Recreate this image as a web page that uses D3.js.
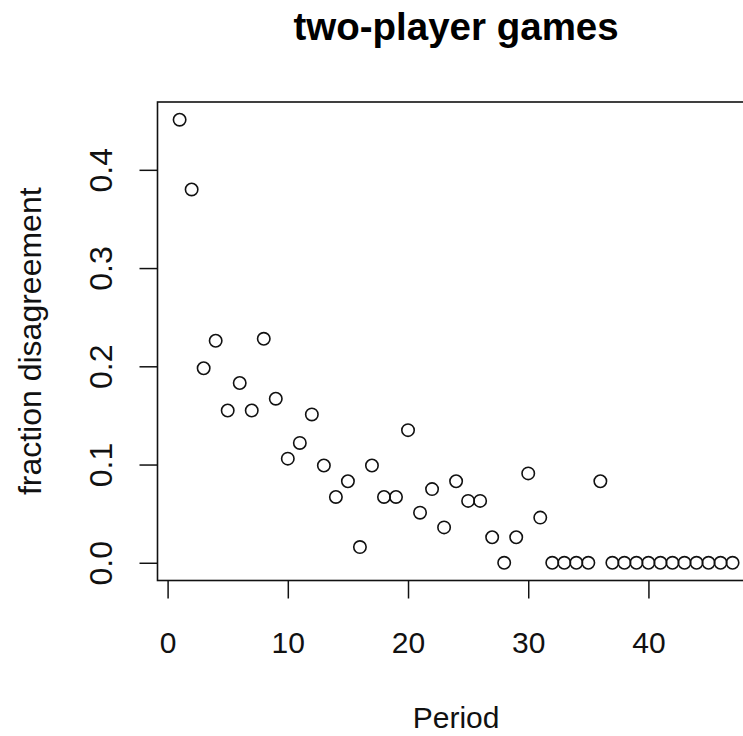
<!DOCTYPE html>
<html>
<head>
<meta charset="utf-8">
<script src="https://cdn.jsdelivr.net/npm/d3@7"></script>
<style>
  html, body { margin: 0; padding: 0; background: #fff; }
  svg { display: block; font-family: "Liberation Sans", Arial, sans-serif; }
</style>
</head>
<body>
<div class="scatter"></div>
<script>
// data
var periods = [1, 2, 3, 4, 5, 6, 7, 8, 9, 10, 11, 12, 13, 14, 15, 16, 17, 18, 19, 20,
  21, 22, 23, 24, 25, 26, 27, 28, 29, 30, 31, 32, 33, 34, 35, 36, 37, 38, 39, 40,
  41, 42, 43, 44, 45, 46, 47];
var disagreement = [0.451, 0.380, 0.198, 0.226, 0.155, 0.183, 0.155, 0.228, 0.167, 0.106,
  0.122, 0.151, 0.099, 0.067, 0.083, 0.016, 0.099, 0.067, 0.067, 0.135,
  0.051, 0.075, 0.036, 0.083, 0.063, 0.063, 0.026, 0, 0.026, 0.091,
  0.046, 0, 0, 0, 0, 0.083, 0, 0, 0, 0,
  0, 0, 0, 0, 0, 0, 0];
var xTicks = [0, 10, 20, 30, 40];
var yTicks = [0, 0.1, 0.2, 0.3, 0.4];
var title = "two-player games";
var xLabel = "Period";
var yLabel = "fraction disagreement";

var width = 743,
  height = 736;

var svg = d3.select(".scatter")
  .append("svg")
  .attr("width", width)
  .attr("height", height);

svg.append("rect")
  .attr("width", width)
  .attr("height", height)
  .attr("fill", "#fff");

// R style 4% padding on the data range
function padded(vals) {
  var ext = d3.extent(vals), pad = (ext[1] - ext[0]) * 0.04;
  return [ext[0] - pad, ext[1] + pad];
}

var boxLeft = 157.5, boxRight = 754.7, boxTop = 102, boxBottom = 580.5;

var x = d3.scaleLinear()
  .domain(padded(periods))
  .range([boxLeft, boxRight]);

var y = d3.scaleLinear()
  .domain(padded(disagreement))
  .range([boxBottom, boxTop]);

/* ------- AXES -------*/
var xAxis = svg.append("g")
  .attr("transform", "translate(0," + boxBottom + ")")
  .call(d3.axisBottom(x).tickValues(xTicks).tickSize(18).tickFormat(d3.format("d")));
xAxis.select(".domain").remove();
xAxis.selectAll("line").attr("stroke", "#111").attr("stroke-width", 1.5);
xAxis.selectAll("text")
  .attr("y", 72.5)
  .attr("dy", 0)
  .attr("fill", "#111")
  .style("font-size", "30px");

var yAxis = svg.append("g")
  .attr("transform", "translate(" + boxLeft + ",0)")
  .call(d3.axisLeft(y).tickValues(yTicks).tickSize(18).tickFormat(d3.format(".1f")));
yAxis.select(".domain").remove();
yAxis.selectAll("line").attr("stroke", "#111").attr("stroke-width", 1.5);
yAxis.selectAll("text")
  .attr("transform", "rotate(-90)")
  .attr("x", 0)
  .attr("y", -45.5)
  .attr("dy", 0)
  .attr("text-anchor", "middle")
  .attr("fill", "#111")
  .style("font-size", "32px");

// plot box (right side runs past the window)
svg.append("rect")
  .attr("x", boxLeft)
  .attr("y", boxTop)
  .attr("width", boxRight - boxLeft)
  .attr("height", boxBottom - boxTop)
  .attr("fill", "none")
  .attr("stroke", "#111")
  .attr("stroke-width", 1.6);

/* ------- POINTS -------*/
svg.append("g")
  .selectAll("circle")
  .data(periods)
  .enter()
  .append("circle")
  .attr("cx", function (d) { return x(d); })
  .attr("cy", function (d, i) { return y(disagreement[i]); })
  .attr("r", 6.2)
  .attr("fill", "none")
  .attr("stroke", "#111")
  .attr("stroke-width", 1.6);

/* ------- LABELS -------*/
svg.append("text")
  .attr("x", (boxLeft + boxRight) / 2)
  .attr("y", 40)
  .attr("text-anchor", "middle")
  .style("font-size", "38.5px")
  .style("font-weight", "bold")
  .text(title);

svg.append("text")
  .attr("x", (boxLeft + boxRight) / 2)
  .attr("y", 728)
  .attr("text-anchor", "middle")
  .attr("fill", "#111")
  .style("font-size", "30px")
  .text(xLabel);

svg.append("text")
  .attr("transform", "translate(41," + (boxTop + boxBottom) / 2 + ") rotate(-90)")
  .attr("text-anchor", "middle")
  .attr("fill", "#111")
  .style("font-size", "32px")
  .text(yLabel);
</script>
</body>
</html>
